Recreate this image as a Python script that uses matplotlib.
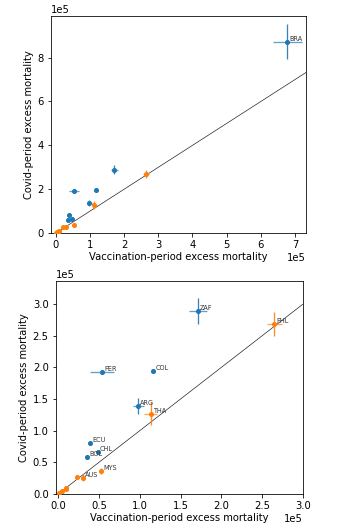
import matplotlib
import matplotlib.pyplot as plt

matplotlib.use("Agg")

# values in units of 1e5 deaths
blue_codes = ["BRA", "ZAF", "COL", "PER", "ARG", "ECU", "CHL", "BOL"]
blue_vacc = [6.77, 1.715, 1.167, 0.536, 0.982, 0.389, 0.483, 0.352]
blue_covid = [8.73, 2.894, 1.950, 1.930, 1.386, 0.807, 0.664, 0.575]
blue_vacc_err = [0.42, 0.11, 0.01, 0.15, 0.07, 0.01, 0.01, 0.01]
blue_covid_err = [0.78, 0.20, 0.02, 0.02, 0.13, 0.02, 0.02, 0.02]

orange_codes = ["PHL", "THA", "MYS", "AUS", "", "", "", "", ""]
orange_vacc = [2.652, 1.134, 0.524, 0.307, 0.225, 0.098, 0.095, 0.045, 0.008]
orange_covid = [2.683, 1.270, 0.358, 0.258, 0.274, 0.095, 0.075, 0.040, 0.010]
orange_vacc_err = [0.09, 0.08, 0.02, 0.02, 0.01, 0.01, 0.01, 0.01, 0.005]
orange_covid_err = [0.19, 0.18, 0.05, 0.05, 0.02, 0.03, 0.02, 0.02, 0.01]

top_labels = ["BRA"]

fig = plt.figure(figsize=(357 / 72, 531 / 72), dpi=72)
ax1 = fig.add_axes([0.143, 0.561, 0.714, 0.409])
ax2 = fig.add_axes([0.156, 0.070, 0.692, 0.401])


def draw(ax, xlim, ylim, labelled):
    scale = 1e5
    for codes, xs, ys, xe, ye, col in [
        (blue_codes, blue_vacc, blue_covid, blue_vacc_err, blue_covid_err, "C0"),
        (orange_codes, orange_vacc, orange_covid, orange_vacc_err, orange_covid_err, "C1"),
    ]:
        xs_ = [v * scale for v in xs]
        ys_ = [v * scale for v in ys]
        # error bars a bit see-through, like the original
        ax.errorbar(xs_, ys_, xerr=[v * scale for v in xe], fmt="none",
                    ecolor=col, elinewidth=1.3, alpha=0.7, zorder=2.5)
        ax.errorbar(xs_, ys_, yerr=[v * scale for v in ye], fmt="none",
                    ecolor=col, elinewidth=1.3, alpha=0.9, zorder=2.6)
        ax.plot(xs_, ys_, "o", color=col, ms=4, zorder=3)
        for c, x, y in zip(codes, xs, ys):
            if c and (labelled is None or c in labelled):
                ax.annotate(c, (x * scale, y * scale), xytext=(2, 1),
                            textcoords="offset points", fontsize=6.5,
                            color="#333333")
    ax.plot([0, xlim[1] * scale], [0, xlim[1] * scale], color="black",
            lw=0.7, alpha=0.85, zorder=2)
    ax.set_xlim(xlim[0] * scale, xlim[1] * scale)
    ax.set_ylim(ylim[0] * scale, ylim[1] * scale)
    ax.set_xlabel("Vaccination-period excess mortality", labelpad=2)
    ax.set_ylabel("Covid-period excess mortality")
    ax.ticklabel_format(style="sci", scilimits=(0, 0))


draw(ax1, (-0.137, 7.32), (0, 9.9), top_labels)
draw(ax2, (-0.032, 3.0), (0, 3.37), None)

fig.savefig("out.png", dpi=72)
